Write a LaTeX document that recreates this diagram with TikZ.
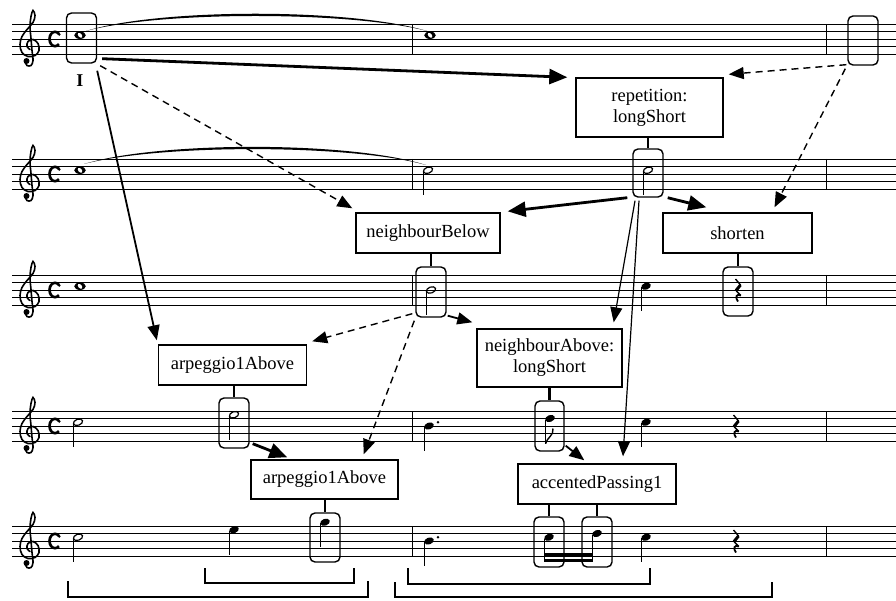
\documentclass[tikz,border=0pt]{standalone}
\usepackage{fontspec}
\setmainfont{Liberation Serif}
\usetikzlibrary{arrows.meta,calc}
\tikzset{
  staffline/.style={line width=0.7pt},
  barline/.style={line width=0.8pt},
  notebox/.style={draw, line width=1.4pt, rounded corners=5pt, minimum width=30pt, minimum height=50pt, inner sep=0pt},
  labelbox/.style={draw, line width=1.4pt, inner sep=0pt, font=\fontsize{18.5}{21}\selectfont, align=center},
  link/.style={line width=2.6pt},
  tipbig/.style={-{Triangle[length=18pt,width=15pt]}},
  tipmid/.style={-{Triangle[length=15pt,width=12pt]}},
  boldarrow/.style={tipbig, line width=2.8pt},
  thinarrow/.style={tipmid, line width=1.2pt},
  medarrow/.style={tipmid, line width=1.8pt},
  dasharrow/.style={tipmid, line width=1.4pt, dash pattern=on 7pt off 5pt},
  stemline/.style={line width=0.9pt},
  bracketline/.style={line width=1.2pt},
  gclef/.pic={
    \draw[line width=1.6pt, line cap=round] plot[smooth, tension=0.6] coordinates {(-5,15) (-3,19) (1,19) (3,14) (2,4) (1,-8) (0,-20) (1,-30) (3,-36) (5,-31) (3,-24) (-3,-17) (-8,-10) (-10,-2) (-8,6) (-2,10) (5,9) (9,4) (8,-3) (3,-7) (-2,-5) (-3,0) (0,3)};
    \fill (-3.5,14.5) circle (3);
  },
  ctime/.pic={
    \draw[line width=2.6pt] (3.9,5.1) arc[start angle=45, end angle=315, x radius=5.5, y radius=7.2];
    \fill (4.2,-4.6) circle (1.5);
  },
  wnote/.pic={
    \fill[even odd rule] (0,0) ellipse [x radius=5.8, y radius=3.7] (0,0) ellipse [x radius=3.0, y radius=1.9, rotate=-50];
  },
  hnote/.pic={
    \draw[line width=1.2pt] (0,0) ellipse [x radius=4.8, y radius=3.0, rotate=20];
    \draw[stemline] (-4.4,1) -- (-4.4,25);
  },
  qhead/.pic={
    \fill (0,0) ellipse [x radius=5, y radius=3.4, rotate=20];
  },
  qnote/.pic={
    \fill (0,0) ellipse [x radius=5, y radius=3.4, rotate=20];
    \draw[stemline] (-4.4,1) -- (-4.4,25);
  },
  enote/.pic={
    \fill (0,0) ellipse [x radius=5, y radius=3.4, rotate=20];
    \draw[stemline] (-4.4,1) -- (-4.4,25);
    \draw[line width=1.4pt] (-4.4,25) .. controls (-3,19) and (4,17) .. (3,10);
  },
  qrest/.pic={
    \draw[line width=1.4pt] (-2.5,-11) -- (2.5,-5);
    \draw[line width=3pt] (2.5,-5) -- (-2,0.5);
    \draw[line width=1.4pt] (-2,0.5) -- (2.8,5.5);
    \draw[line width=1.8pt] (2.8,5.5) .. controls (-2,3) and (-3,8) .. (0,11.5);
  }
}
\begin{document}
\begin{tikzpicture}[x=1pt,y=-1pt]
\useasboundingbox (0,0) rectangle (896,601);
% staves
\foreach \t in {24,159,275,411,526} {
  \foreach \k in {0,...,4} \draw[staffline] (12,\t+7.5*\k) -- (896,\t+7.5*\k);
  \draw[barline] (412,\t) -- (412,\t+30);
  \draw[barline] (826,\t) -- (826,\t+30);
  \pic at (30,\t+22.5) {gclef};
  \pic at (55,\t+15) {ctime};
}
% ties
\fill (86,31) .. controls (160,8) and (350,8) .. (427,31) .. controls (350,11) and (160,11) .. (86,31);
\fill (84,164) .. controls (160,141) and (350,141) .. (426,165) .. controls (350,144) and (160,144) .. (84,164);
% staff 1
\pic at (80,35.25) {wnote};
\pic at (430,35.25) {wnote};
% staff 2
\pic at (80,170.25) {wnote};
\pic at (428,170.25) {hnote};
\pic at (648,170.25) {hnote};
% staff 3
\pic at (80,286.25) {wnote};
\pic at (431,290) {hnote};
\pic at (646,286.25) {qnote};
\pic at (738,290) {qrest};
% staff 4
\pic at (78,422.25) {hnote};
\pic at (234,414.75) {hnote};
\pic at (429,426) {qnote};
\fill (438,422.25) circle (1.4);
\pic at (550,418.5) {enote};
\pic at (646,422.25) {qnote};
\pic at (736,426) {qrest};
% staff 5
\pic at (78,537.25) {hnote};
\pic at (234,529.75) {qnote};
\pic at (325,522.25) {qnote};
\pic at (429,541) {qnote};
\fill (438,537.25) circle (1.4);
\pic at (549,537.25) {qhead};
\pic at (597,533.5) {qhead};
\draw[stemline] (544.6,539) -- (544.6,562);
\draw[stemline] (592.6,535) -- (592.6,562);
\fill (544,553) rectangle (593,556.5);
\fill (544,558.5) rectangle (593,562);
\pic at (646,537.25) {qnote};
\pic at (736,541) {qrest};
% boxes
\node[notebox] (boxI) at (81.5,38) {};
\node[font=\fontsize{18}{18}\selectfont\bfseries] (lblI) at (80,81) {I};
\node[notebox, minimum height=49pt] (boxR) at (863,40.5) {};
\node[labelbox, minimum width=147pt, minimum height=59pt] (rep) at (649.5,107.5) {repetition:\\longShort};
\node[notebox, minimum height=48pt] (box2) at (648,173) {};
\node[labelbox, minimum width=144pt, minimum height=40pt] (nb) at (428,233) {neighbourBelow};
\node[labelbox, minimum width=149pt, minimum height=40pt] (sh) at (737.5,233) {shorten};
\node[notebox] (box3) at (431,292) {};
\node[notebox, minimum height=49pt] (box3r) at (738,291.5) {};
\node[labelbox, minimum width=148pt, minimum height=40pt] (arpA) at (232.5,365) {arpeggio1Above};
\node[labelbox, minimum width=145pt, minimum height=58pt] (na) at (549.5,358) {neighbourAbove:\\longShort};
\node[notebox] (box4) at (234,423) {};
\node[notebox, minimum width=29pt] (box4b) at (549.5,426) {};
\node[labelbox, minimum width=147pt, minimum height=39pt] (arpB) at (324.5,479.5) {arpeggio1Above};
\node[labelbox, minimum width=158pt, minimum height=40pt] (ap) at (597,484) {accentedPassing1};
\node[notebox, minimum height=49pt] (box5) at (325,537.5) {};
\node[notebox] (box5a) at (549,542) {};
\node[notebox] (box5b) at (597,542) {};
% short links
\draw[link] (rep.south -| box2.north) -- (box2.north);
\draw[link] (nb.south -| box3.north) -- (box3.north);
\draw[link] (sh.south -| box3r.north) -- (box3r.north);
\draw[link] (arpA.south -| box4.north) -- (box4.north);
\draw[link] (na.south -| box4b.north) -- (box4b.north);
\draw[link] (arpB.south -| box5.north) -- (box5.north);
\draw[link] (ap.south -| box5a.north) -- (box5a.north);
\draw[link] (ap.south -| box5b.north) -- (box5b.north);
% arrows
\draw[boldarrow] ($(boxI.south east)+(5,-5)$) -- ($(rep.north west)+(-8,0)$);
\draw[dasharrow] ($(boxI.south east)+(3,2)$) -- ($(nb.north west)+(-3,-4)$);
\draw[medarrow] ($(boxI.south east)+(0,7)$) -- ($(arpA.north west)+(-1,-4)$);
\draw[dasharrow] ($(boxR.south west)+(-1,-1)$) -- ($(rep.north east)+(5,-3)$);
\draw[dasharrow] ($(boxR.south west)+(-2,3)$) -- ($(sh.north)+(37,-5)$);
\draw[boldarrow] ($(box2.south west)+(-5,0)$) -- ($(nb.north east)+(7,-1)$);
\draw[boldarrow] ($(box2.south east)+(4,0)$) -- ($(sh.north west)+(44,-5)$);
\draw[thinarrow] ($(box2.south)+(-13,3)$) -- ($(na.north east)+(-9,-6)$);
\draw[thinarrow] ($(box2.south)+(-9,3)$) -- ($(ap.north)+(26,-7)$);
\draw[dasharrow] ($(box3.south west)+(-3,-4)$) -- ($(arpA.north east)+(5,-3)$);
\draw[dasharrow] ($(box3.south west)+(-1,3)$) -- ($(arpB.north east)+(-35,-5)$);
\draw[medarrow] ($(box3.south east)+(1,-2)$) -- ($(na.north west)+(-4,-6)$);
\draw[boldarrow] ($(box4.south east)+(3,-5)$) -- ($(arpB.north west)+(37,-2)$);
\draw[medarrow] ($(box4b.south east)+(1,-6)$) -- ($(ap.north west)+(67,-3)$);
% brackets
\draw[bracketline] (68,581) -- (68,597) -- (368,597) -- (368,581);
\draw[bracketline] (205,568) -- (205,583) -- (354,583) -- (354,568);
\draw[bracketline] (408,568) -- (408,584) -- (650,584) -- (650,568);
\draw[bracketline] (395,582) -- (395,597) -- (772,597) -- (772,582);
\end{tikzpicture}
\end{document}
